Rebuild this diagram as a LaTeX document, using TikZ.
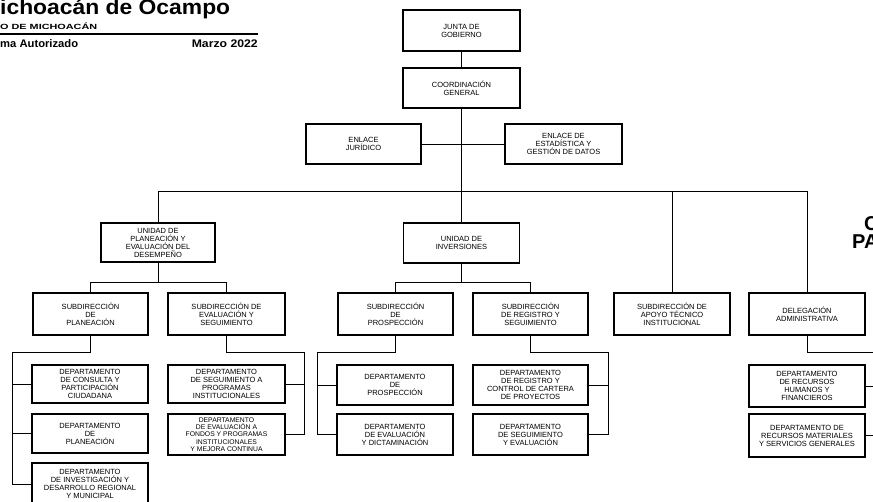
\documentclass[tikz,border=0pt]{standalone}
\usepackage{fontspec}
\usepackage{graphicx}
\setmainfont{Liberation Sans}
\begin{document}
\begin{tikzpicture}[x=1pt,y=-1pt,
  box/.style={draw=black,line width=1.3pt,align=center,inner sep=0pt,
    minimum width=116pt,minimum height=40pt,
    font=\fontsize{7.5}{8}\selectfont},
  smallbox/.style={box,font=\fontsize{6.8}{7.2}\selectfont},
  conn/.style={draw=black,line width=0.9pt},
  hdr/.style={inner sep=0pt,anchor=base west}]
\useasboundingbox (0,0) rectangle (873,501);
\begin{scope}
\clip (0,0) rectangle (873,501);
\fill[white] (0,0) rectangle (873,501);
% header
\node[hdr] (h1) at (0,14.5) {\resizebox{230pt}{\height}{\fontsize{21}{21}\selectfont\bfseries ichoacán de Ocampo}};
\node[hdr] (h2) at (0,29.5) {\resizebox{97pt}{\height}{\fontsize{7.5}{8}\selectfont\bfseries O DE MICHOACÁN}};
\draw[line width=1.2pt] (0,34) -- (258,34);
\node[hdr] (h3) at (0,47.5) {\resizebox{78pt}{\height}{\fontsize{11}{12}\selectfont\bfseries ma Autorizado}};
\node[inner sep=0pt,anchor=base east] (h4) at (258,47.5) {\resizebox{66pt}{\height}{\fontsize{11}{12}\selectfont\bfseries Marzo 2022}};
\node[hdr] (r1) at (864,230) {\fontsize{20}{20}\selectfont\bfseries C};
\node[hdr] (r2) at (852,248) {\fontsize{20}{20}\selectfont\bfseries PA};
% top
\node[box,minimum width=117pt,minimum height=41pt] (junta) at (461.5,30.5) {JUNTA DE\\GOBIERNO};
\node[box,minimum width=117pt] (coord) at (461.5,88) {COORDINACIÓN\\GENERAL};
\node[box,minimum width=115pt] (enj) at (363.5,144) {ENLACE\\JURÍDICO};
\node[box,minimum width=117pt] (ene) at (563.5,144) {ENLACE DE\\ESTADÍSTICA Y\\GESTIÓN DE DATOS};
% unidades
\node[box,minimum width=114pt,minimum height=39pt] (upl) at (158,242.5) {UNIDAD DE\\PLANEACIÓN Y\\EVALUACIÓN DEL\\DESEMPEÑO};
\node[box] (uin) at (461.5,243) {UNIDAD DE\\INVERSIONES};
% subdirecciones
\node[box,minimum width=115pt,minimum height=42pt] (spl) at (90.5,314) {SUBDIRECCIÓN\\DE\\PLANEACIÓN};
\node[box,minimum width=117pt,minimum height=42pt] (sev) at (226.5,314) {SUBDIRECCIÓN DE\\EVALUACIÓN Y\\SEGUIMIENTO};
\node[box,minimum width=115pt,minimum height=42pt] (spr) at (395.5,314) {SUBDIRECCIÓN\\DE\\PROSPECCIÓN};
\node[box,minimum width=115pt,minimum height=42pt] (sre) at (530.5,314) {SUBDIRECCIÓN\\DE REGISTRO Y\\SEGUIMIENTO};
\node[box,minimum width=116pt,minimum height=42pt] (sap) at (672,314) {SUBDIRECCIÓN DE\\APOYO TÉCNICO\\INSTITUCIONAL};
\node[box,minimum width=116pt,minimum height=42pt] (del) at (807,314) {DELEGACIÓN\\ADMINISTRATIVA};
% departamentos
\node[box,minimum height=38pt] (d1) at (90,384) {DEPARTAMENTO\\DE CONSULTA Y\\PARTICIPACIÓN\\CIUDADANA};
\node[box,minimum height=39pt] (d2) at (90,433.5) {DEPARTAMENTO\\DE\\PLANEACIÓN};
\node[box,minimum height=42pt] (d3) at (90,484) {DEPARTAMENTO\\DE INVESTIGACIÓN Y\\DESARROLLO REGIONAL\\Y MUNICIPAL};
\node[box,minimum width=117pt,minimum height=38pt] (d4) at (226.5,384) {DEPARTAMENTO\\DE SEGUIMIENTO A\\PROGRAMAS\\INSTITUCIONALES};
\node[smallbox,minimum width=117pt,minimum height=41pt] (d5) at (226.5,434.5) {DEPARTAMENTO\\DE EVALUACIÓN A\\FONDOS Y PROGRAMAS\\INSTITUCIONALES\\Y MEJORA CONTINUA};
\node[box] (d6) at (395,385) {DEPARTAMENTO\\DE\\PROSPECCIÓN};
\node[box,minimum height=41pt] (d7) at (395,434.5) {DEPARTAMENTO\\DE EVALUACIÓN\\Y DICTAMINACIÓN};
\node[box,minimum width=115pt] (d8) at (530.5,385) {DEPARTAMENTO\\DE REGISTRO Y\\CONTROL DE CARTERA\\DE PROYECTOS};
\node[box,minimum width=115pt,minimum height=41pt] (d9) at (530.5,434.5) {DEPARTAMENTO\\DE SEGUIMIENTO\\Y EVALUACIÓN};
\node[box,minimum height=42pt] (d10) at (807,386) {DEPARTAMENTO\\DE RECURSOS\\HUMANOS Y\\FINANCIEROS};
\node[box,minimum height=43pt] (d11) at (807,435.5) {DEPARTAMENTO DE\\RECURSOS MATERIALES\\Y SERVICIOS GENERALES};
% helper coordinates
\coordinate (bus) at (0,191);
\coordinate (b1) at (0,282);
\coordinate (b2) at (0,352);
\coordinate (xl1) at (12,0);
\coordinate (xr1) at (304,0);
\coordinate (xl2) at (317,0);
\coordinate (xr2) at (608,0);
\coordinate (xr3) at (882,0);
% connectors
\draw[conn] (junta) -- (coord);
\draw[conn] (coord.south) -- (uin.north);
\draw[conn] (enj) -- (ene);
\draw[conn] (upl.north) -- (upl.north |- bus) -- (del.north |- bus) -- (del.north);
\draw[conn] (sap.north |- bus) -- (sap.north);
% unidad planeacion
\draw[conn] (upl.south) -- (upl.south |- b1);
\draw[conn] (spl.north) -- (spl.north |- b1) -- (sev.north |- b1) -- (sev.north);
% unidad inversiones
\draw[conn] (uin.south) -- (uin.south |- b1);
\draw[conn] (spr.north) -- (spr.north |- b1) -- (sre.north |- b1) -- (sre.north);
% sub planeacion
\draw[conn] (spl.south) -- (spl.south |- b2) -- (xl1 |- b2) -- (xl1 |- d3.west) -- (d3.west);
\draw[conn] (xl1 |- d1.west) -- (d1.west);
\draw[conn] (xl1 |- d2.west) -- (d2.west);
% sub evaluacion
\draw[conn] (sev.south) -- (sev.south |- b2) -- (xr1 |- b2) -- (xr1 |- d5.east) -- (d5.east);
\draw[conn] (xr1 |- d4.east) -- (d4.east);
% sub prospeccion
\draw[conn] (spr.south) -- (spr.south |- b2) -- (xl2 |- b2) -- (xl2 |- d7.west) -- (d7.west);
\draw[conn] (xl2 |- d6.west) -- (d6.west);
% sub registro
\draw[conn] (sre.south) -- (sre.south |- b2) -- (xr2 |- b2) -- (xr2 |- d9.east) -- (d9.east);
\draw[conn] (xr2 |- d8.east) -- (d8.east);
% delegacion
\draw[conn] (del.south) -- (del.south |- b2) -- (xr3 |- b2) -- (xr3 |- d11.east) -- (d11.east);
\draw[conn] (xr3 |- d10.east) -- (d10.east);
\end{scope}
\end{tikzpicture}
\end{document}
